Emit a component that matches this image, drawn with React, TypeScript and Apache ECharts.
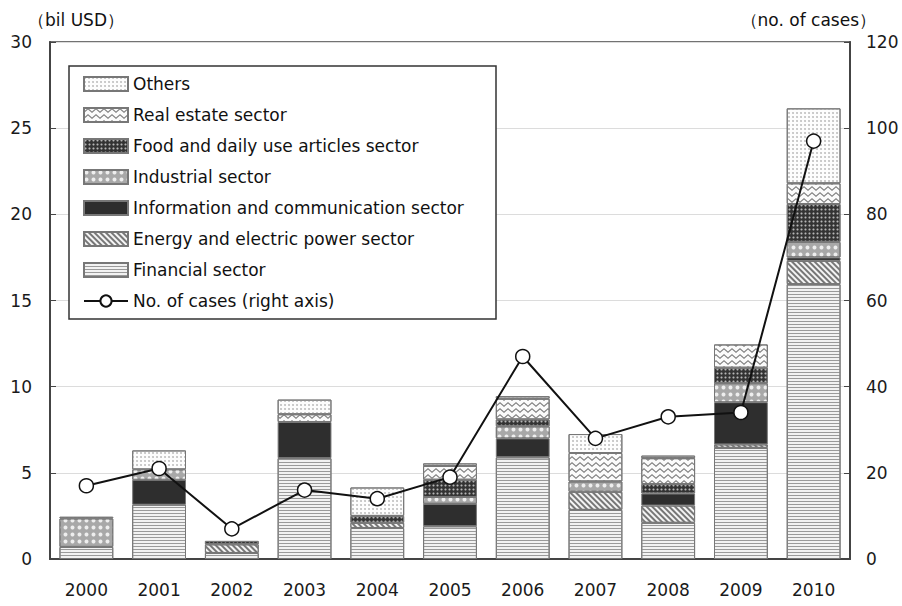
import React, { useEffect, useRef } from "react";
import * as echarts from "echarts";

const years = ["2000", "2001", "2002", "2003", "2004", "2005", "2006", "2007", "2008", "2009", "2010"];
const financial = [0.7, 3.15, 0.35, 5.85, 1.8, 1.9, 5.9, 2.85, 2.1, 6.45, 15.95];
const energy = [0, 0, 0.5, 0, 0.3, 0, 0, 1.05, 1.0, 0.2, 1.35];
const infoComm = [0, 1.45, 0, 2.1, 0, 1.3, 1.1, 0, 0.7, 2.45, 0.2];
const industrial = [1.65, 0.6, 0, 0, 0, 0.4, 0.7, 0.6, 0, 1.1, 0.9];
const food = [0, 0, 0.2, 0, 0.4, 1.0, 0.4, 0, 0.55, 0.9, 2.2];
const realEstate = [0, 0, 0, 0.45, 0, 0.8, 1.2, 1.65, 1.5, 1.35, 1.2];
const others = [0.1, 1.1, 0, 0.85, 1.65, 0.15, 0.15, 1.1, 0.15, 0, 4.35];
const cases = [17, 21, 7, 16, 14, 19, 47, 28, 33, 34, 97];

const legendOrder = [
  "Others",
  "Real estate sector",
  "Food and daily use articles sector",
  "Industrial sector",
  "Information and communication sector",
  "Energy and electric power sector",
  "Financial sector",
];
const lineName = "No. of cases (right axis)";

const FONT = "DejaVu Sans";

function clean(arr: number[]) {
  return arr.map((v) => (v === 0 ? "-" : v));
}

export default function App() {
  const ref = useRef<HTMLDivElement>(null);
  useEffect(() => {
    document.body.style.margin = "0";
    const chart = echarts.init(ref.current!, null, { renderer: "svg" });
    const border = { borderColor: "#777", borderWidth: 1 };
    const barSeries = [
      {
        name: "Financial sector",
        data: financial,
        itemStyle: {
          color: "#f2f2f2",
          ...border,
          decal: { symbol: "rect", symbolSize: 1, dashArrayX: [1, 0], dashArrayY: [1, 2], color: "#9a9a9a" },
        },
      },
      {
        name: "Energy and electric power sector",
        data: energy,
        itemStyle: {
          color: "#f4f4f4",
          ...border,
          decal: { symbol: "rect", symbolSize: 1, dashArrayX: [1, 0], dashArrayY: [2, 2], rotation: Math.PI / 4, color: "#777" },
        },
      },
      {
        name: "Information and communication sector",
        data: infoComm,
        itemStyle: { color: "#2e2e2e", ...border },
      },
      {
        name: "Industrial sector",
        data: industrial,
        itemStyle: {
          color: "#a8a8a8",
          ...border,
          decal: { symbol: "circle", symbolSize: 0.8, dashArrayX: [5, 2], dashArrayY: [5, 2], color: "#eeeeee" },
        },
      },
      {
        name: "Food and daily use articles sector",
        data: food,
        itemStyle: {
          color: "#333",
          ...border,
          decal: { symbol: "circle", symbolSize: 0.7, dashArrayX: [3, 1], dashArrayY: [3, 1], color: "#b5b5b5" },
        },
      },
      {
        name: "Real estate sector",
        data: realEstate,
        itemStyle: {
          color: "#fbfbfb",
          ...border,
          decal: {
            symbol: "path://M0,6 L5,1 L10,6 L10,8 L5,3 L0,8 Z",
            symbolSize: 1,
            symbolKeepAspect: false,
            dashArrayX: [8, 0],
            dashArrayY: [5, 1],
            color: "#808080",
          },
        },
      },
      {
        name: "Others",
        data: others,
        itemStyle: {
          color: "#fdfdfd",
          ...border,
          decal: { symbol: "circle", symbolSize: 0.8, dashArrayX: [2, 2], dashArrayY: [2, 2], color: "#b0b0b0" },
        },
      },
    ].map((s) => ({
      type: "bar",
      stack: "total",
      barWidth: "74%",
      name: s.name,
      data: clean(s.data),
      itemStyle: s.itemStyle,
    }));

    const option: any = {
      animation: false,
      backgroundColor: "#fff",
      textStyle: { fontFamily: FONT },
      grid: { left: 50, right: 52, top: 42, bottom: 47, show: true, borderColor: "#444", borderWidth: 1.5 },
      legend: {
        orient: "vertical",
        left: 69,
        top: 66,
        padding: [9, 6, 9, 14],
        itemWidth: 44,
        itemHeight: 14,
        itemGap: 13,
        borderColor: "#333",
        borderWidth: 1.5,
        backgroundColor: "#fff",
        textStyle: { fontFamily: FONT, fontSize: 17, lineHeight: 18, color: "#111", width: 357 },
        data: [
          ...legendOrder.map((n) => ({ name: n, icon: "rect" })),
          { name: lineName },
        ],
      },
      graphic: [
        {
          type: "text",
          left: 28,
          top: 11,
          style: { text: "（bil USD）", fontFamily: FONT, fontSize: 17, fill: "#111" },
        },
        {
          type: "text",
          right: 26,
          top: 11,
          style: { text: "（no. of cases）", fontFamily: FONT, fontSize: 17, fill: "#111" },
        },
      ],
      xAxis: {
        type: "category",
        data: years,
        axisLine: { lineStyle: { color: "#444", width: 2 } },
        axisTick: { inside: true, length: 5, lineStyle: { color: "#444" } },
        axisLabel: { margin: 22, fontSize: 17, color: "#1a1a1a", fontFamily: FONT },
      },
      yAxis: [
        {
          type: "value",
          min: 0,
          max: 30,
          interval: 5,
          axisLine: { show: true, lineStyle: { color: "#444", width: 2 } },
          axisTick: { show: true, inside: true, length: 6, lineStyle: { color: "#444" } },
          axisLabel: { margin: 18, fontSize: 17, color: "#1a1a1a", fontFamily: FONT },
          splitLine: { show: true, lineStyle: { color: "#dcdcdc", width: 1 } },
        },
        {
          type: "value",
          min: 0,
          max: 120,
          interval: 20,
          position: "right",
          axisLine: { show: true, lineStyle: { color: "#444", width: 2 } },
          axisTick: { show: true, inside: true, length: 6, lineStyle: { color: "#444" } },
          axisLabel: { margin: 16, fontSize: 17, color: "#1a1a1a", fontFamily: FONT },
          splitLine: { show: false },
        },
      ],
      series: [
        ...barSeries,
        {
          type: "line",
          name: lineName,
          yAxisIndex: 1,
          data: cases,
          z: 5,
          symbol: "circle",
          symbolSize: 14,
          lineStyle: { color: "#111", width: 2 },
          itemStyle: { color: "#fff", borderColor: "#111", borderWidth: 1.5 },
        },
      ],
    };
    chart.setOption(option);
    return () => chart.dispose();
  }, []);
  return <div ref={ref} style={{ width: 902, height: 606 }} />;
}
